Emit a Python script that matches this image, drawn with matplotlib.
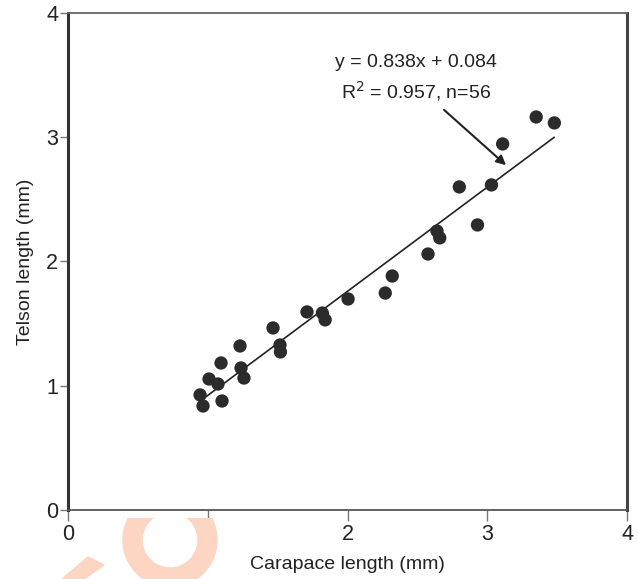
import matplotlib.pyplot as plt
import matplotlib.patches as mpatches
import numpy as np

plt.rcParams['font.family'] = ['Liberation Sans', 'DejaVu Sans']

# carapace length vs telson length (mm)
carapace = [0.945, 0.966, 1.009, 1.073, 1.095, 1.102, 1.231, 1.238, 1.259,
            1.467, 1.517, 1.52, 1.71, 1.82, 1.84, 2.004, 2.27, 2.32,
            2.576, 2.64, 2.66, 2.80, 2.93, 3.03, 3.11, 3.35, 3.48]
telson = [0.926, 0.837, 1.054, 1.014, 1.183, 0.877, 1.32, 1.143, 1.062,
          1.465, 1.328, 1.272, 1.594, 1.585, 1.53, 1.698, 1.746, 1.883,
          2.06, 2.245, 2.19, 2.60, 2.294, 2.616, 2.946, 3.163, 3.115]

slope = 0.838
intercept = 0.084
fit_range = [0.987, 3.478]

ticks = [0, 1, 2, 3, 4]

fig = plt.figure(figsize=(6.38, 5.79), dpi=100)
ax = fig.add_axes([0.1066, 0.1192, 0.8762, 0.8584])

ax.scatter(carapace, telson, s=92, color='#2b2b2b', edgecolors='none', zorder=3)
fx = np.array(fit_range)
ax.plot(fx, slope * fx + intercept, color='#222222', lw=1.2, zorder=2)

# arrow from the equation to the fitted line
ax.annotate('', xy=(3.149, 2.76), xytext=(2.676, 3.235),
            arrowprops=dict(arrowstyle='-|>', color='#222222', lw=1.5,
                            mutation_scale=14))
ax.text(2.49, 3.60, 'y = %.3fx + %.3f' % (slope, intercept), ha='center', va='center',
        fontsize=14, color='#222222')
ax.text(2.49, 3.37, 'R$^{2}$ = 0.957, n=56', ha='center', va='center',
        fontsize=14, color='#222222')

ax.set_xlim(0, 4)
ax.set_ylim(0, 4)
ax.set_xticks(ticks)
ax.set_yticks(ticks)
ax.tick_params(axis='x', length=8, width=1, color='#777777', pad=2,
               labelsize=15.5, labelcolor='#222222')
ax.tick_params(axis='y', length=6, width=1, color='#777777', pad=1,
               labelsize=15.5, labelcolor='#222222')

ax.spines['left'].set_linewidth(2.2)
ax.spines['left'].set_color('#333333')
ax.spines['right'].set_linewidth(2.2)
ax.spines['right'].set_color('#444444')
ax.spines['top'].set_linewidth(1.3)
ax.spines['top'].set_color('#666666')
ax.spines['bottom'].set_linewidth(1.3)
ax.spines['bottom'].set_color('#555555')

ax.set_xlabel('Carapace length (mm)', fontsize=14, color='#222222', labelpad=8)
ax.set_ylabel('Telson length (mm)', fontsize=14, color='#222222', labelpad=9)

# faint orange watermark fragment at the bottom left
wm = '#fdd5c3'
ring = mpatches.Wedge((170, 579 - 540), 47, 0, 360, width=19, color=wm,
                      transform=None, zorder=0)
clip = mpatches.Rectangle((0, 0), 638, 579 - 518, transform=None)
ring.set_clip_path(clip)
fig.patches.append(ring)
stroke = mpatches.Polygon([(62, 0), (84, 0), (104, 14), (88, 22)], closed=True,
                          color=wm, transform=None, zorder=0)
fig.patches.append(stroke)

fig.savefig('out.png', dpi=100)
